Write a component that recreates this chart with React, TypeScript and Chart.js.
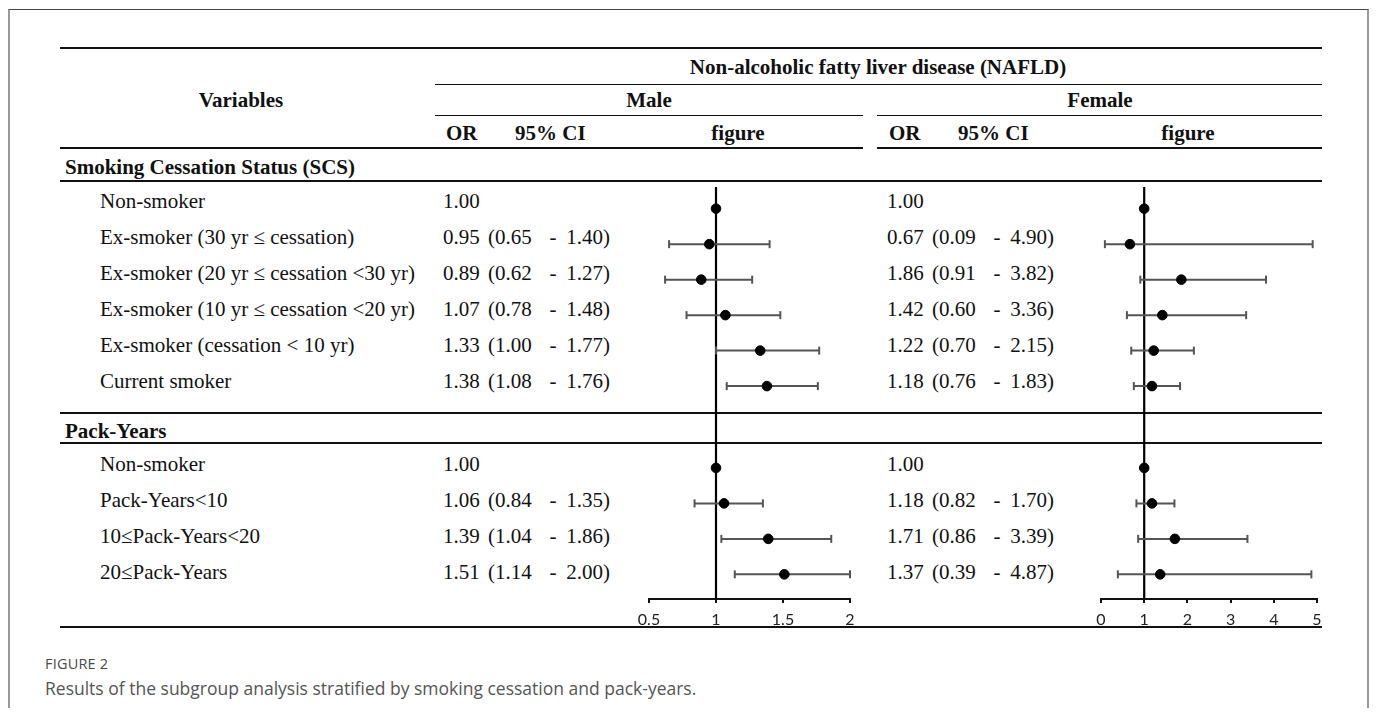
import React, { useEffect, useRef } from 'react';
import { Chart, registerables } from 'chart.js';

Chart.register(...registerables);

// ---------------- DATA ----------------
const SCS_LABELS = [
  'Non-smoker',
  'Ex-smoker (30 yr ≤ cessation)',
  'Ex-smoker (20 yr ≤ cessation <30 yr)',
  'Ex-smoker (10 yr ≤ cessation <20 yr)',
  'Ex-smoker (cessation < 10 yr)',
  'Current smoker',
];
const PY_LABELS = ['Non-smoker', 'Pack-Years<10', '10≤Pack-Years<20', '20≤Pack-Years'];

const MALE_SCS_OR = [1.0, 0.95, 0.89, 1.07, 1.33, 1.38];
const MALE_SCS_LO: (number | null)[] = [null, 0.65, 0.62, 0.78, 1.0, 1.08];
const MALE_SCS_HI: (number | null)[] = [null, 1.4, 1.27, 1.48, 1.77, 1.76];

const FEMALE_SCS_OR = [1.0, 0.67, 1.86, 1.42, 1.22, 1.18];
const FEMALE_SCS_LO: (number | null)[] = [null, 0.09, 0.91, 0.6, 0.7, 0.76];
const FEMALE_SCS_HI: (number | null)[] = [null, 4.9, 3.82, 3.36, 2.15, 1.83];

const MALE_PY_OR = [1.0, 1.06, 1.39, 1.51];
const MALE_PY_LO: (number | null)[] = [null, 0.84, 1.04, 1.14];
const MALE_PY_HI: (number | null)[] = [null, 1.35, 1.86, 2.0];

const FEMALE_PY_OR = [1.0, 1.18, 1.71, 1.37];
const FEMALE_PY_LO: (number | null)[] = [null, 0.82, 0.86, 0.39];
const FEMALE_PY_HI: (number | null)[] = [null, 1.7, 3.39, 4.87];

const MALE_TICKS = [0.5, 1, 1.5, 2];
const FEMALE_TICKS = [0, 1, 2, 3, 4, 5];
const NULL_OR = 1;

const TITLE = 'Non-alcoholic fatty liver disease (NAFLD)';
const CAPTION_LABEL = 'FIGURE 2';
const CAPTION_TEXT = 'Results of the subgroup analysis stratified by smoking cessation and pack-years.';

// ---------------- LAYOUT (page coordinates) ----------------
const M = 8; // body margin
const SERIF = '"Liberation Serif", "Times New Roman", serif';
const SANS = '"Open Sans", "Noto Sans", sans-serif';
const FS = 21;
const ROW_PITCH = 36;
const GROUP_TOPS = [203, 466];
const PLOT_TOP = 181;
const AXIS_Y = 599;
const AXIS_H = 40;
const PAD = 20;

const rowV = (g: number, i: number) => (GROUP_TOPS[g] - GROUP_TOPS[0]) / ROW_PITCH + i;
const vToPage = (v: number) => GROUP_TOPS[0] + v * ROW_PITCH;

type Group = { or: number[]; lo: (number | null)[]; hi: (number | null)[] };

function Forest({ x0, x1, ticks, groups }: { x0: number; x1: number; ticks: number[]; groups: Group[] }) {
  const ref = useRef<HTMLCanvasElement>(null);
  const width = x1 - x0 + PAD * 2;
  const height = AXIS_Y - PLOT_TOP + AXIS_H;
  const yMin = (PLOT_TOP - GROUP_TOPS[0]) / ROW_PITCH;
  const yMax = (AXIS_Y - GROUP_TOPS[0]) / ROW_PITCH;

  useEffect(() => {
    if (!ref.current) return;
    const points: { x: number; y: number }[] = [];
    const ciSets: any[] = [];
    groups.forEach((g, gi) => {
      g.or.forEach((or, i) => {
        const y = rowV(gi, i);
        points.push({ x: or, y });
        const lo = g.lo[i];
        const hi = g.hi[i];
        if (lo != null && hi != null) {
          ciSets.push({
            data: [
              { x: lo, y },
              { x: hi, y },
            ],
            showLine: true,
            borderColor: '#555',
            borderWidth: 2,
            pointStyle: 'line',
            pointRotation: 90,
            pointRadius: 4,
            pointBorderColor: '#555',
            pointBorderWidth: 2,
            clip: false,
            order: 1,
          });
        }
      });
    });
    const datasets: any[] = [
      {
        data: points,
        pointStyle: 'circle',
        pointRadius: 4.8,
        pointBackgroundColor: '#000',
        pointBorderColor: '#000',
        pointBorderWidth: 1,
        clip: false,
        order: 0,
      },
      ...ciSets,
      {
        data: [
          { x: NULL_OR, y: yMin },
          { x: NULL_OR, y: yMax },
        ],
        showLine: true,
        borderColor: '#000',
        borderWidth: 2.2,
        pointRadius: 0,
        clip: false,
        order: 2,
      },
    ];
    const chart = new Chart(ref.current, {
      type: 'scatter',
      data: { datasets },
      options: {
        animation: false,
        responsive: false,
        events: [],
        layout: { padding: { left: PAD, right: PAD, top: 0, bottom: 0 } },
        plugins: { legend: { display: false }, tooltip: { enabled: false } },
        scales: {
          x: {
            type: 'linear',
            position: 'bottom',
            min: ticks[0],
            max: ticks[ticks.length - 1],
            afterBuildTicks: (s: any) => {
              s.ticks = ticks.map((v) => ({ value: v }));
            },
            afterFit: (s: any) => {
              s.height = AXIS_H;
            },
            border: { display: true, color: '#111', width: 2 },
            grid: { drawOnChartArea: false, drawTicks: true, tickLength: 4, color: '#111', lineWidth: 2 },
            ticks: {
              padding: 7,
              color: '#222',
              font: { family: 'Lato', size: 16 },
              autoSkip: false,
              maxRotation: 0,
              callback: (v: any) => String(v),
            },
          },
          y: { type: 'linear', display: false, min: yMin, max: yMax, reverse: true },
        },
      } as any,
    });
    return () => chart.destroy();
  }, []);

  return (
    <canvas
      ref={ref}
      width={width}
      height={height}
      style={{ position: 'absolute', left: x0 - PAD - M, top: PLOT_TOP - M, width, height, pointerEvents: 'none' }}
    />
  );
}

function T({ x, y, t, bold, align = 'left', size = FS }: { x: number; y: number; t: string; bold?: boolean; align?: 'left' | 'center' | 'right'; size?: number }) {
  const tx = align === 'center' ? '-50%' : align === 'right' ? '-100%' : '0';
  return (
    <div
      style={{
        position: 'absolute',
        left: x - M,
        top: y - M,
        transform: `translate(${tx}, -50%)`,
        fontFamily: SERIF,
        fontSize: size,
        fontWeight: bold ? 700 : 400,
        lineHeight: '24px',
        whiteSpace: 'pre',
        color: '#111',
      }}
    >
      {t}
    </div>
  );
}

function HLine({ y, x0, x1, w = 1 }: { y: number; x0: number; x1: number; w?: number }) {
  return <div style={{ position: 'absolute', left: x0 - M, top: y - w / 2 - M, width: x1 - x0, height: w, background: '#111' }} />;
}

export default function App() {
  useEffect(() => {
    document.documentElement.style.overflow = 'hidden';
    document.body.style.overflow = 'hidden';
  }, []);

  const L = 60;
  const R = 1322;
  const ML = 435;
  const MR = 863;
  const FL = 877;

  const rows = [
    { labels: SCS_LABELS, male: { or: MALE_SCS_OR, lo: MALE_SCS_LO, hi: MALE_SCS_HI }, female: { or: FEMALE_SCS_OR, lo: FEMALE_SCS_LO, hi: FEMALE_SCS_HI } },
    { labels: PY_LABELS, male: { or: MALE_PY_OR, lo: MALE_PY_LO, hi: MALE_PY_HI }, female: { or: FEMALE_PY_OR, lo: FEMALE_PY_LO, hi: FEMALE_PY_HI } },
  ];

  const cols = [
    { key: 'male' as const, orX: 443, ciX: 488 },
    { key: 'female' as const, orX: 887, ciX: 932 },
  ];

  const textRows: JSX.Element[] = [];
  rows.forEach((grp, gi) => {
    grp.labels.forEach((lab, i) => {
      const y = vToPage(rowV(gi, i)) - 2;
      textRows.push(<T key={`l${gi}-${i}`} x={100} y={y} t={lab} />);
      cols.forEach((c) => {
        const d = grp[c.key];
        textRows.push(<T key={`o${c.key}${gi}-${i}`} x={c.orX} y={y} t={d.or[i].toFixed(2)} />);
        const lo = d.lo[i];
        const hi = d.hi[i];
        if (lo != null && hi != null) {
          textRows.push(<T key={`a${c.key}${gi}-${i}`} x={c.ciX} y={y} t={`(${lo.toFixed(2)}`} />);
          textRows.push(<T key={`b${c.key}${gi}-${i}`} x={c.ciX + 65} y={y} t="-" align="center" />);
          textRows.push(<T key={`c${c.key}${gi}-${i}`} x={c.ciX + 122} y={y} t={`${hi.toFixed(2)})`} align="right" />);
        }
      });
    });
  });

  return (
    <div style={{ position: 'relative', width: 1361, height: 700 }}>
      <div
        style={{
          position: 'absolute',
          left: 0,
          top: 1,
          width: 1361,
          height: 720,
          boxSizing: 'border-box',
          borderTop: '1px solid #444',
          borderLeft: '2px solid #999',
          borderRight: '2px solid #999',
        }}
      />
      {/* table rules */}
      <HLine y={48} x0={L} x1={R} w={2} />
      <HLine y={84} x0={ML} x1={R} w={1} />
      <HLine y={115} x0={ML} x1={MR} w={1} />
      <HLine y={115} x0={FL} x1={R} w={1} />
      <HLine y={148} x0={L} x1={MR} w={2} />
      <HLine y={148} x0={FL} x1={R} w={2} />
      <HLine y={181} x0={L} x1={R} w={1.5} />
      <HLine y={413} x0={L} x1={R} w={2} />
      <HLine y={443} x0={L} x1={R} w={1.5} />
      <HLine y={627} x0={L} x1={R} w={2} />

      {/* headers */}
      <T x={241} y={100} t="Variables" bold align="center" />
      <T x={878} y={67} t={TITLE} bold align="center" />
      <T x={649} y={100} t="Male" bold align="center" />
      <T x={1100} y={100} t="Female" bold align="center" />
      <T x={446} y={133} t="OR" bold />
      <T x={515} y={133} t="95% CI" bold />
      <T x={738} y={133} t="figure" bold align="center" />
      <T x={889} y={133} t="OR" bold />
      <T x={958} y={133} t="95% CI" bold />
      <T x={1188} y={133} t="figure" bold align="center" />
      <T x={65} y={167} t="Smoking Cessation Status (SCS)" bold />
      <T x={65} y={431} t="Pack-Years" bold />
      {textRows}

      <Forest x0={649} x1={850} ticks={MALE_TICKS} groups={[rows[0].male, rows[1].male]} />
      <Forest x0={1101} x1={1317} ticks={FEMALE_TICKS} groups={[rows[0].female, rows[1].female]} />

      {/* caption */}
      <div style={{ position: 'absolute', left: 45 - M, top: 664 - M, transform: 'translateY(-50%)', fontFamily: SANS, fontSize: 14.5, color: '#4a4a4a', letterSpacing: 0.2, lineHeight: '18px', whiteSpace: 'pre' }}>
        {CAPTION_LABEL}
      </div>
      <div style={{ position: 'absolute', left: 45 - M, top: 688 - M, transform: 'translateY(-50%)', fontFamily: SANS, fontSize: 17.5, color: '#555', lineHeight: '22px', whiteSpace: 'pre' }}>
        {CAPTION_TEXT}
      </div>
    </div>
  );
}
